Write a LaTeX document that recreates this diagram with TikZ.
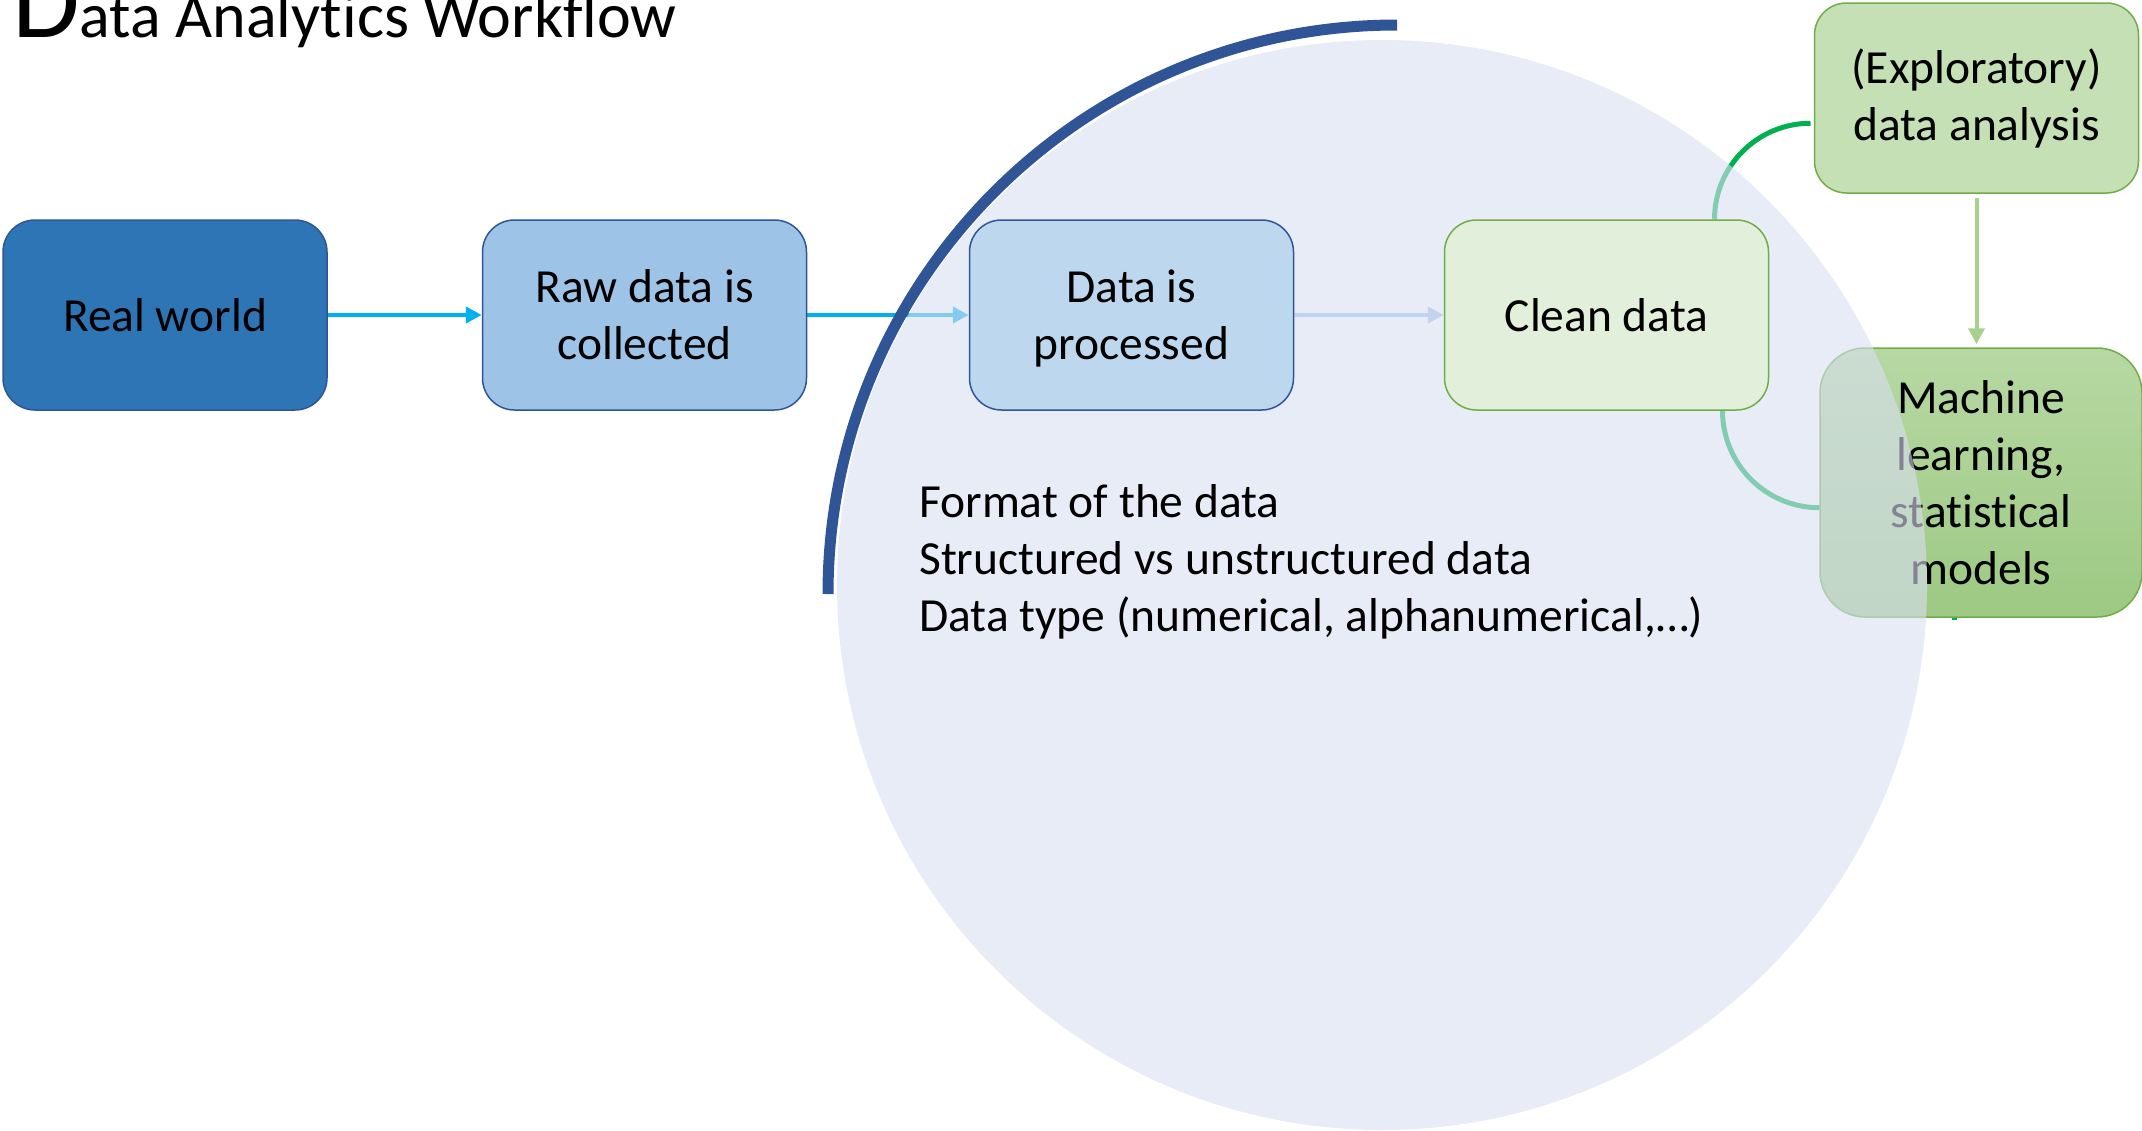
\documentclass[tikz,border=0pt]{standalone}
\usepackage{fontspec}
\setmainfont{Carlito}[Ligatures=NoCommon]
\usetikzlibrary{arrows.meta}

\definecolor{realfill}{HTML}{2E75B6}
\definecolor{bluedraw}{HTML}{2F5597}
\definecolor{rawfill}{HTML}{9DC3E6}
\definecolor{procfill}{HTML}{BDD7EE}
\definecolor{cleanfill}{HTML}{E2EFDA}
\definecolor{greendraw}{HTML}{70AD47}
\definecolor{explfill}{HTML}{C5E0B4}
\definecolor{mltop}{HTML}{B7D8A3}
\definecolor{mlbottom}{HTML}{9DC983}
\definecolor{washfill}{RGB}{217,223,242}
\definecolor{cyanline}{HTML}{00B0F0}
\definecolor{paleline}{HTML}{9DC3E6}
\definecolor{greenline}{HTML}{A9D18E}
\definecolor{linkgreen}{HTML}{00B050}

\pgfdeclarelayer{under}
\pgfdeclarelayer{wash}
\pgfsetlayers{under,wash,main}

\tikzset{
  stage/.style={rectangle, rounded corners=32pt, minimum width=324pt,
    minimum height=190pt, inner sep=0pt, align=center,
    font=\fontsize{47.5}{57}\selectfont, line width=1.5pt},
  flow/.style={-{Triangle[length=16pt,width=16pt]}, line width=4pt},
  link/.style={linkgreen, line width=5pt},
}

\begin{document}
\begin{tikzpicture}[x=1pt,y=-1pt]
\useasboundingbox (0,0) rectangle (2142,1130);

% heading
\node[anchor=base west, inner sep=0pt] (title) at (12,37)
  {{\fontsize{110}{110}\selectfont D}{\fontsize{64}{64}\selectfont ata Analytics Workflow}};

% workflow stages
\node[stage, fill=realfill, draw=bluedraw] (real) at (165,315) {Real world};
\node[stage, fill=rawfill, draw=bluedraw] (raw) at (644.5,315) {Raw data is\\collected};
\node[stage, fill=procfill, draw=bluedraw, text depth=0pt] (proc) at (1131.5,315) {Data is\\processed};
\node[stage, fill=cleanfill, draw=greendraw] (clean) at (1606.5,315) {Clean data};
\node[stage, fill=explfill, draw=greendraw] (expl) at (1976.5,98) {(Exploratory)\\data analysis};

% items behind the translucent disc
\begin{pgfonlayer}{under}
  \draw[link] (1954,600) -- (1954,620);
  \node[stage, minimum width=322pt, minimum height=269pt, rounded corners=45pt,
        top color=mltop, bottom color=mlbottom, draw=greendraw] (ml) at (1981,482.5)
        {Machine\\learning,\\statistical\\models};
  \draw[flow, cyanline] (real.east) -- (raw.west);
  \draw[flow, cyanline] (raw.east) -- (proc.west);
  \draw[flow, paleline] (proc.east) -- (clean.west);
  \draw[flow, greenline, shorten <=4pt, shorten >=3pt] (expl.south) -- (expl.south |- ml.north);
  \draw[link] (clean.north) ++(108,0) arc[start angle=180, end angle=270, radius=96];
  \draw[link] (clean.south) ++(116,0) arc[start angle=180, end angle=90, radius=97];
\end{pgfonlayer}

% translucent disc
\begin{pgfonlayer}{wash}
  \fill[washfill, fill opacity=0.6] (1382,585) circle[radius=545];
\end{pgfonlayer}

% outer arc
\draw[bluedraw, line width=11pt] (1397,594) ++(180:569) arc[start angle=180, end angle=270, radius=569];

% notes on the data (base anchor sits on the last line)
\node[anchor=base west, align=left, inner sep=0pt, font=\fontsize{47.5}{57}\selectfont] (notes) at (919,631)
  {Format of the data\\Structured vs unstructured data\\Data type (numerical, alphanumerical,\dots)};
\end{tikzpicture}
\end{document}
